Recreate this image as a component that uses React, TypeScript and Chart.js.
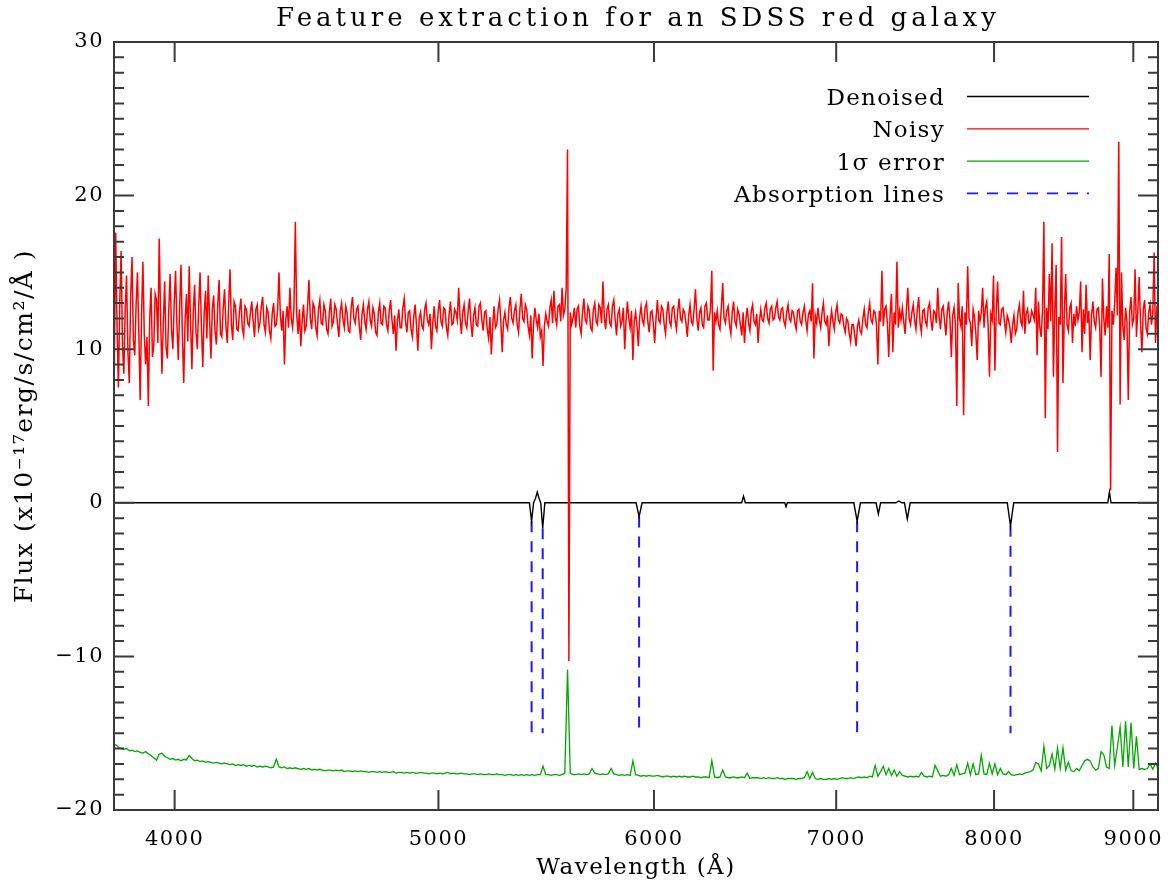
import React, { useEffect, useRef } from "react";
import { Chart, registerables } from "chart.js";

Chart.register(...registerables);

// ---------------- text ----------------
const TITLE = "Feature extraction for an SDSS red galaxy";
const X_TITLE = "Wavelength (Å)";
const Y_TITLE = "Flux (x10⁻¹⁷erg/s/cm²/Å )";
const LEGEND_LABELS = ["Denoised", "Noisy", "1σ error", "Absorption lines"];

// ---------------- axes ----------------
const X_MIN = 3800;
const X_MAX = 9190;
const X_TICKS = [4000, 5000, 6000, 7000, 8000, 9000];
const Y_MIN = -20;
const Y_MAX = 30;
const Y_TICKS = [-20, -10, 0, 10, 20, 30];
const Y_MAJOR = 10;
const Y_MINOR = 1;

// SDSS-style log-linear wavelength grids (log10 Å)
const NOISY_LOGLAM0 = 3.5794;
const NOISY_DLOGLAM = 0.0005;
const ERR_LOGLAM0 = 3.5794;
const ERR_DLOGLAM = 0.001;

// Noisy flux, one value per grid pixel
const noisyFlux = [
  12.0, 9.0, 17.6, 11.5, 7.5, 13.0, 16.4, 10.2, 8.4, 12.6, 14.8, 9.8, 7.8, 13.4, 16.0, 10.6, 9.6, 12.9, 15.0, 11.1,
  6.7, 12.2, 15.7, 11.0, 9.0, 10.8, 6.3, 12.0, 14.0, 9.5, 10.2, 13.6, 13.2, 10.4, 17.2, 12.1, 8.4, 11.7, 14.4, 10.1,
  9.4, 12.5, 14.9, 11.3, 10.0, 13.0, 15.1, 11.6, 9.3, 12.7, 15.5, 10.9, 7.8, 11.9, 13.6, 10.5, 15.4, 11.8, 8.7, 12.4,
  14.2, 11.1, 10.0, 12.8, 15.0, 11.4, 8.85, 12.3, 13.8, 10.7, 14.8, 11.9, 9.4, 12.6, 13.5, 11.2, 10.3, 12.9, 14.5, 11.0,
  10.8, 12.7, 13.9, 11.5, 10.4, 12.9, 15.2, 11.6, 10.6, 13.1, 12.8, 11.3, 11.2, 12.5, 13.3, 11.4, 10.9, 12.8, 12.6, 11.7,
  11.5, 12.4, 13.1, 11.8, 10.8, 12.6, 12.9, 11.3, 11.7, 12.8, 13.4, 11.6, 11.1, 12.7, 12.4, 11.2, 10.7, 12.3, 13.0, 11.5,
  11.6, 12.6, 15.0, 12.2, 11.2, 12.5, 9.0, 11.9, 12.8, 11.4, 14.0, 12.0, 11.4, 12.7, 18.3, 12.3, 11.0, 12.6, 10.2, 11.8,
  12.9, 11.2, 11.5, 12.8, 14.5, 12.0, 11.3, 13.0, 12.7, 11.4, 10.9, 12.6, 13.2, 11.7, 11.6, 12.9, 12.5, 11.3, 11.0, 12.4,
  13.3, 11.5, 11.8, 12.9, 12.6, 11.6, 10.8, 12.5, 13.0, 11.9, 11.4, 12.8, 12.4, 11.2, 11.1, 12.7, 13.4, 12.0, 11.7, 12.6,
  12.8, 11.5, 10.6, 12.3, 12.9, 11.8, 11.3, 12.6, 13.1, 11.9, 11.5, 12.7, 12.3, 11.1, 10.9, 12.4, 13.0, 11.7, 11.6, 12.8,
  12.7, 11.6, 11.2, 12.5, 13.2, 11.9, 11.0, 12.2, 9.9, 11.8, 12.6, 11.4, 11.4, 12.7, 13.3, 11.8, 11.1, 12.4, 12.5, 11.3,
  10.8, 12.1, 12.9, 11.6, 9.9, 12.0, 12.4, 11.5, 11.3, 12.6, 13.0, 11.9, 11.6, 12.3, 10.0, 11.7, 12.8, 11.5, 11.2, 12.5,
  13.2, 11.8, 11.5, 12.7, 12.6, 11.4, 10.9, 12.3, 13.1, 11.6, 11.7, 12.6, 12.4, 11.9, 14.0, 12.1, 11.0, 12.4, 12.9, 11.7,
  11.4, 12.5, 13.3, 11.7, 10.8, 12.2, 12.7, 11.6, 11.5, 12.8, 13.0, 11.9, 11.2, 12.4, 12.5, 11.3, 10.7, 12.1, 9.65, 11.5,
  12.8, 11.4, 11.6, 12.6, 13.2, 11.8, 9.8, 11.9, 12.4, 11.6, 11.3, 12.7, 13.4, 12.0, 11.7, 12.5, 12.9, 11.6, 11.1, 12.6,
  13.6, 12.0, 11.8, 12.9, 12.6, 11.5, 10.9, 12.2, 9.4, 11.6, 12.7, 11.9, 11.4, 12.3, 10.8, 11.2, 8.9, 11.5, 12.3, 11.8,
  11.5, 12.7, 13.2, 11.7, 13.8, 12.1, 11.6, 12.8, 12.9, 11.8, 14.0, 12.2, 12.6, 14.0, 23.0, -10.3, 12.4, 11.6, 12.0, 12.7,
  11.4, 12.6, 12.8, 11.5, 11.0, 12.4, 13.3, 11.9, 11.7, 12.8, 12.5, 11.4, 11.2, 12.6, 13.0, 11.8, 11.6, 12.9, 12.7, 11.7,
  14.4, 12.1, 11.3, 12.6, 12.9, 11.7, 11.5, 12.8, 13.2, 11.9, 10.9, 12.3, 12.6, 11.5, 11.8, 12.7, 10.0, 11.9, 13.1, 12.0,
  11.4, 12.5, 9.3, 11.8, 12.4, 11.6, 10.2, 12.1, 12.8, 11.9, 11.6, 12.7, 13.0, 11.8, 11.1, 12.4, 12.5, 11.7, 10.4, 12.0,
  13.2, 11.9, 11.7, 12.8, 12.6, 11.6, 11.0, 12.4, 13.1, 11.8, 11.5, 12.7, 12.8, 11.9, 11.3, 12.5, 13.3, 12.0, 11.8, 12.6,
  12.4, 11.7, 10.8, 12.2, 12.9, 11.8, 11.6, 12.6, 13.9, 12.0, 11.2, 12.4, 12.7, 11.6, 11.4, 12.8, 13.0, 11.9, 11.9, 12.6,
  15.1, 8.6, 12.4, 11.8, 12.5, 11.6, 11.3, 12.7, 14.3, 12.0, 11.7, 12.5, 12.8, 11.6, 11.0, 12.4, 13.1, 11.8, 11.5, 12.6,
  12.3, 11.6, 10.9, 12.4, 10.4, 11.9, 12.7, 11.7, 11.2, 12.5, 12.9, 11.8, 11.6, 12.3, 10.4, 11.8, 12.6, 11.9, 11.8, 12.7,
  13.0, 12.0, 11.7, 12.6, 12.8, 11.9, 12.0, 12.7, 13.1, 12.1, 11.9, 12.6, 12.7, 11.8, 11.5, 12.4, 12.9, 12.0, 11.8, 12.5,
  12.4, 11.7, 11.3, 12.5, 12.6, 11.8, 11.6, 12.4, 12.8, 11.9, 11.2, 12.3, 12.5, 11.8, 14.3, 9.4, 12.2, 11.7, 12.7, 11.9,
  11.4, 12.4, 13.0, 11.8, 11.6, 12.2, 10.2, 11.7, 12.5, 11.8, 11.3, 12.4, 12.9, 11.9, 11.7, 12.3, 12.2, 11.5, 11.1, 12.0,
  11.8, 11.0, 10.5, 11.6, 11.6, 10.9, 10.2, 11.5, 11.9, 11.2, 11.0, 12.0, 12.6, 11.6, 11.4, 12.4, 13.0, 11.9, 11.7, 12.5,
  12.4, 11.6, 9.0, 12.5, 11.8, 15.1, 11.5, 12.6, 12.8, 11.7, 9.5, 12.3, 13.6, 9.8, 12.4, 11.6, 15.7, 11.4, 12.5, 11.9,
  12.7, 11.8, 11.0, 12.6, 14.0, 12.0, 11.6, 12.4, 12.9, 11.9, 11.3, 12.6, 13.4, 11.7, 11.1, 12.5, 12.6, 11.8, 11.5, 12.7,
  13.0, 11.9, 11.2, 12.5, 12.4, 11.7, 14.0, 12.1, 11.3, 12.6, 12.8, 11.8, 10.9, 12.4, 13.1, 11.9, 9.5, 12.2, 12.7, 11.6,
  6.3, 14.3, 12.0, 11.5, 12.8, 5.7, 12.4, 11.6, 15.4, 12.0, 11.7, 10.2, 12.6, 12.1, 11.0, 9.3, 12.5, 11.8, 12.4, 14.0,
  11.4, 12.7, 13.1, 11.6, 8.2, 12.3, 11.9, 14.8, 8.6, 12.5, 14.4, 11.7, 11.6, 12.6, 12.7, 11.8, 11.1, 12.2, 11.9, 11.4,
  10.4, 11.6, 12.2, 11.0, 11.3, 12.4, 12.9, 11.8, 11.5, 13.8, 11.0, 12.3, 12.6, 11.7, 11.8, 12.5, 12.2, 11.9, 14.0, 9.6,
  13.1, 11.4, 10.8, 12.6, 18.3, 5.5, 12.7, 11.3, 14.9, 11.8, 16.9, 8.2, 12.5, 15.5, 3.3, 12.1, 11.6, 17.3, 7.8, 12.4,
  14.9, 11.6, 11.2, 12.7, 13.0, 10.4, 12.3, 11.5, 12.8, 11.9, 12.4, 14.4, 9.8, 12.6, 11.0, 14.2, 11.7, 12.5, 9.3, 12.2,
  13.1, 11.8, 11.4, 12.6, 12.7, 11.5, 8.2, 14.6, 12.0, 10.9, 12.8, 11.4, 16.2, 0.8, 12.5, 11.6, 13.0, 15.3, 12.2, 23.5,
  6.4, 15.0, 11.5, 10.6, 12.7, 11.8, 6.7, 12.4, 13.4, 11.6, 12.0, 15.2, 10.8, 12.5, 14.7, 11.7, 9.8, 12.6, 13.2, 11.4,
  11.0, 12.4, 12.9, 11.6, 12.3, 16.3, 10.4, 12.6, 12.2,
];

// 1-sigma error curve (as plotted, offset below zero)
const errorFlux = [
  -15.8, -15.75, -15.9, -16.0, -16.05, -16.0, -16.15, -16.1, -16.2, -16.15,
  -16.25, -16.3, -16.2, -16.35, -16.45, -16.6, -16.75, -16.35, -16.3, -16.5,
  -16.6, -16.7, -16.65, -16.75, -16.7, -16.8, -16.7, -16.75, -16.45, -16.65,
  -16.8, -16.75, -16.85, -16.8, -16.9, -16.85, -16.9, -16.95, -16.9, -16.95,
  -17.0, -16.95, -17.0, -17.05, -17.0, -17.1, -17.05, -17.1, -17.05, -17.15,
  -17.1, -17.15, -17.1, -17.2, -17.15, -17.2, -17.15, -17.2, -17.25, -17.2,
  -16.7, -17.2, -17.25, -17.2, -17.3, -17.25, -17.3, -17.25, -17.3, -17.35,
  -17.3, -17.35, -17.3, -17.4, -17.35, -17.4, -17.35, -17.4, -17.45, -17.4,
  -17.4, -17.45, -17.4, -17.45, -17.4, -17.5, -17.45, -17.45, -17.5, -17.45,
  -17.5, -17.45, -17.5, -17.5, -17.55, -17.5, -17.5, -17.55, -17.5, -17.55,
  -17.5, -17.55, -17.55, -17.5, -17.6, -17.55, -17.55, -17.6, -17.55, -17.6,
  -17.55, -17.6, -17.6, -17.55, -17.6, -17.6, -17.65, -17.6, -17.6, -17.65,
  -17.6, -17.65, -17.6, -17.55, -17.65, -17.6, -17.65, -17.65, -17.6, -17.65,
  -17.65, -17.7, -17.65, -17.65, -17.7, -17.65, -17.7, -17.7, -17.65, -17.7,
  -17.7, -17.65, -17.7, -17.7, -17.75, -17.7, -17.7, -17.75, -17.7, -17.75,
  -17.7, -17.75, -17.7, -17.75, -17.7, -17.75, -17.7, -17.7, -17.15, -17.7,
  -17.7, -17.75, -17.7, -17.7, -17.75, -17.7, -17.6, -10.85, -17.6, -17.7,
  -17.7, -17.65, -17.7, -17.65, -17.7, -17.65, -17.3, -17.6, -17.65, -17.7,
  -17.65, -17.7, -17.65, -17.3, -17.65, -17.7, -17.75, -17.7, -17.75, -17.7,
  -17.75, -16.8, -17.7, -17.75, -17.8, -17.75, -17.8, -17.75, -17.8, -17.8,
  -17.75, -17.8, -17.85, -17.8, -17.8, -17.85, -17.8, -17.85, -17.8, -17.85,
  -17.8, -17.85, -17.85, -17.8, -17.85, -17.85, -17.9, -17.85, -17.85, -17.9,
  -16.8, -17.85, -17.9, -17.85, -17.4, -17.85, -17.9, -17.9, -17.85, -17.9,
  -17.9, -17.85, -17.9, -17.6, -17.95, -17.9, -17.9, -17.9, -17.95, -17.9,
  -17.95, -17.9, -17.95, -17.95, -17.9, -17.95, -17.95, -18.0, -17.95, -17.95,
  -17.95, -18.0, -17.95, -17.95, -17.9, -17.5, -17.95, -17.55, -17.95, -18.0,
  -17.95, -18.0, -18.0, -17.95, -18.0, -17.95, -18.0, -17.95, -17.9, -17.95,
  -17.95, -17.9, -17.95, -17.9, -17.85, -17.9, -17.85, -17.9, -17.8, -17.85,
  -17.1, -17.8, -17.5, -17.15, -17.7, -17.3, -17.75, -17.4, -17.8, -17.5,
  -17.75, -17.8, -17.85, -17.8, -17.85, -17.8, -17.85, -17.55, -17.8, -17.85,
  -17.8, -17.85, -17.1, -17.45, -17.8, -17.75, -17.8, -17.7, -17.3, -17.75,
  -17.05, -17.7, -17.65, -17.6, -16.95, -17.7, -17.0, -17.7, -17.65, -16.45,
  -17.65, -17.7, -16.95, -17.65, -17.0, -17.7, -17.3, -17.65, -17.7, -17.5,
  -17.7, -17.75, -17.7, -17.65, -17.7, -17.6, -17.55, -17.5, -17.4, -16.9,
  -17.0, -17.45, -15.85, -17.3, -17.1, -16.35, -17.35, -15.95, -17.3, -15.95,
  -17.4, -16.9, -17.45, -17.5, -17.3, -17.45, -17.1, -16.8, -16.7, -16.8,
  -17.2, -17.4, -17.3, -16.2, -16.4, -17.2, -17.3, -14.5, -17.1, -15.9,
  -14.6, -17.2, -14.23, -17.2, -14.3, -17.3, -15.2, -17.35, -17.3, -17.35,
  -17.3, -17.0, -17.35, -16.95, -17.3,
];

// Denoised spectrum: flat at zero with the detected features
const denoisedWave = [
  3790, 5400, 5410, 5419, 5428, 5436, 5444, 5452, 5461, 5471,
  5910, 5925, 5940, 6462, 6472, 6482, 6702, 6709, 6716, 7105,
  7125, 7145, 7240, 7254, 7268, 7362, 7381, 7400, 7416, 7434,
  7452, 8090, 8112, 8134, 8808, 8820, 8832, 9200,
];
const denoisedFlux = [
  0, 0, -1.2, 0, 0.3, 0.7, 0.3, 0, -1.65, 0,
  0, -0.9, 0, 0, 0.43, 0, 0, -0.25, 0, 0,
  -1.2, 0, 0, -0.73, 0, 0, 0.12, 0, 0, -1.05,
  0, 0, -1.5, 0, 0, 0.7, 0, 0,
];

// Absorption lines (wavelength, top of marker, bottom of marker)
const absWave = [5410, 5461, 5925, 7125, 8112];
const absTop = [-1.2, -1.65, -0.9, -1.2, -1.5];
const ABS_BOTTOM = -15;

// ---------------- styles ----------------
const SERIF = '"DejaVu Serif", "Liberation Serif", serif';
const COLORS = {
  denoised: "#000000",
  noisy: "#ff0000",
  error: "#00a800",
  abs: "#1a1aff",
  axis: "#3a3a3a",
};
const ABS_DASH = [11, 9];

const noisyWave = noisyFlux.map((_, i) => Math.pow(10, NOISY_LOGLAM0 + NOISY_DLOGLAM * i));
const errorWave = errorFlux.map((_, i) => Math.pow(10, ERR_LOGLAM0 + ERR_DLOGLAM * i));

const decorPlugin = {
  id: "decor",
  beforeDraw(chart: any) {
    chart.ctx.letterSpacing = "1.5px";
  },
  afterDraw(chart: any) {
    const { ctx, chartArea, scales } = chart;
    const { left, right, top, bottom } = chartArea;
    const xs = scales.x;
    const ys = scales.y;
    ctx.save();
    // frame
    ctx.strokeStyle = COLORS.axis;
    ctx.lineWidth = 2;
    ctx.setLineDash([]);
    ctx.beginPath();
    ctx.rect(left, top, right - left, bottom - top);
    ctx.stroke();
    // inward ticks
    ctx.beginPath();
    for (let v = Y_MIN; v <= Y_MAX; v += Y_MINOR) {
      const py = ys.getPixelForValue(v);
      const len = v % Y_MAJOR === 0 ? 20 : 10;
      ctx.moveTo(left, py);
      ctx.lineTo(left + len, py);
      ctx.moveTo(right, py);
      ctx.lineTo(right - len, py);
    }
    X_TICKS.forEach((v) => {
      const px = xs.getPixelForValue(v);
      ctx.moveTo(px, bottom);
      ctx.lineTo(px, bottom - 20);
      ctx.moveTo(px, top);
      ctx.lineTo(px, top + 20);
    });
    ctx.stroke();

    // title
    ctx.fillStyle = "#000";
    ctx.font = `26px ${SERIF}`;
    (ctx as any).letterSpacing = "4px";
    ctx.textAlign = "center";
    ctx.textBaseline = "alphabetic";
    ctx.fillText(TITLE, (left + right) / 2 + 2, 26);

    // legend
    const styles = [
      { color: COLORS.denoised, dash: [] as number[], width: 1.3 },
      { color: COLORS.noisy, dash: [] as number[], width: 1.3 },
      { color: COLORS.error, dash: [] as number[], width: 1.3 },
      { color: COLORS.abs, dash: ABS_DASH, width: 1.8 },
    ];
    const rowY = [96.5, 128.8, 161.1, 193.4];
    ctx.font = `23px ${SERIF}`;
    (ctx as any).letterSpacing = "1.3px";
    ctx.textAlign = "right";
    LEGEND_LABELS.forEach((label, i) => {
      const yy = rowY[i];
      ctx.fillStyle = "#000";
      ctx.fillText(label, 945, yy + 8.5);
      ctx.beginPath();
      ctx.strokeStyle = styles[i].color;
      ctx.lineWidth = styles[i].width;
      ctx.setLineDash(styles[i].dash);
      ctx.moveTo(967, yy);
      ctx.lineTo(1089, yy);
      ctx.stroke();
    });
    ctx.restore();
  },
};

export default function App() {
  const ref = useRef<HTMLCanvasElement>(null);
  useEffect(() => {
    if (!ref.current) return;
    const absData: any[] = [];
    absWave.forEach((w, i) => {
      absData.push({ x: w, y: absTop[i] });
      absData.push({ x: w, y: ABS_BOTTOM });
      absData.push({ x: w, y: null });
    });
    const chart = new Chart(ref.current, {
      type: "line",
      data: {
        datasets: [
          {
            label: LEGEND_LABELS[1],
            data: noisyWave.map((w, i) => ({ x: w, y: noisyFlux[i] })),
            borderColor: COLORS.noisy,
            borderWidth: 1.5,
          },
          {
            label: LEGEND_LABELS[0],
            data: denoisedWave.map((w, i) => ({ x: w, y: denoisedFlux[i] })),
            borderColor: COLORS.denoised,
            borderWidth: 1.4,
          },
          {
            label: LEGEND_LABELS[2],
            data: errorWave.map((w, i) => ({ x: w, y: errorFlux[i] })),
            borderColor: COLORS.error,
            borderWidth: 1.3,
          },
          {
            label: LEGEND_LABELS[3],
            data: absData,
            borderColor: COLORS.abs,
            borderWidth: 2,
            borderDash: ABS_DASH,
            spanGaps: false,
          },
        ],
      },
      options: {
        animation: false,
        responsive: false,
        devicePixelRatio: 1,
        events: [],
        layout: { padding: { top: 42, right: 13, left: 0, bottom: 0 } },
        elements: {
          point: { radius: 0 },
          line: { tension: 0 },
        },
        plugins: {
          legend: { display: false },
          tooltip: { enabled: false },
          title: { display: false },
        },
        scales: {
          x: {
            type: "logarithmic",
            min: X_MIN,
            max: X_MAX,
            afterBuildTicks: (s: any) => {
              s.ticks = X_TICKS.map((v) => ({ value: v }));
            },
            afterFit: (s: any) => {
              s.height = 74;
              s.paddingLeft = 0;
              s.paddingRight = 0;
            },
            grid: { display: false, drawTicks: false },
            border: { display: false },
            ticks: {
              callback: (v: any) => String(v),
              autoSkip: false,
              maxRotation: 0,
              minRotation: 0,
              padding: 17,
              color: "#000",
              font: { family: SERIF, size: 21 },
            },
            title: {
              display: true,
              text: X_TITLE,
              color: "#000",
              font: { family: SERIF, size: 23 },
              padding: { top: 0, bottom: 2 },
            },
          },
          y: {
            type: "linear",
            min: Y_MIN,
            max: Y_MAX,
            afterBuildTicks: (s: any) => {
              s.ticks = Y_TICKS.map((v) => ({ value: v }));
            },
            afterFit: (s: any) => {
              s.width = 114;
              s.paddingTop = 0;
              s.paddingBottom = 0;
            },
            grid: { display: false, drawTicks: false },
            border: { display: false },
            ticks: {
              callback: (v: any) => (v < 0 ? "\u2212" + Math.abs(v) : String(v)),
              padding: 10,
              color: "#000",
              font: { family: SERIF, size: 21 },
            },
            title: {
              display: true,
              text: Y_TITLE,
              color: "#000",
              font: { family: SERIF, size: 25 },
              padding: { top: 10, bottom: 0 },
            },
          },
        },
      },
      plugins: [decorPlugin],
    } as any);
    return () => chart.destroy();
  }, []);
  return (
    <div style={{ position: "fixed", left: 0, top: 0, width: 1171, height: 884, background: "#fff" }}>
      <canvas ref={ref} width={1171} height={884} style={{ display: "block", width: 1171, height: 884 }} />
    </div>
  );
}
